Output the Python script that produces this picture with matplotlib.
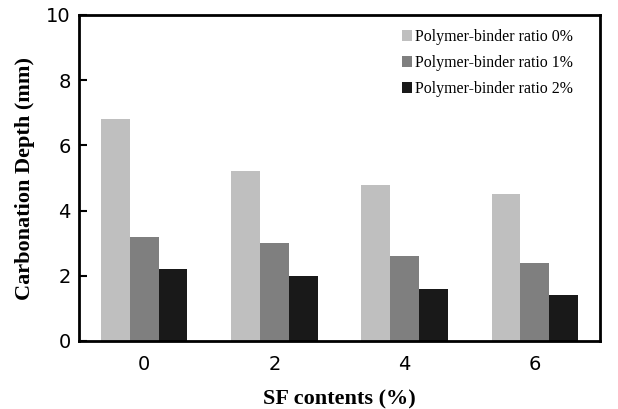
import numpy as np
import matplotlib.pyplot as plt

sf_contents = ['0', '2', '4', '6']
series_names = ['Polymer-binder ratio 0%', 'Polymer-binder ratio 1%', 'Polymer-binder ratio 2%']
depth_0 = [6.8, 5.2, 4.8, 4.5]
depth_1 = [3.2, 3.0, 2.6, 2.4]
depth_2 = [2.2, 2.0, 1.6, 1.4]
colors = ['#bfbfbf', '#7f7f7f', '#191919']

fig = plt.figure(figsize=(6.18, 4.09), dpi=100)
ax = fig.add_axes([79 / 618, 1 - 341 / 409, 521 / 618, 326 / 409])

x = np.arange(len(sf_contents))
w = 0.222
for i, vals in enumerate([depth_0, depth_1, depth_2]):
    ax.bar(x + (i - 1) * w, vals, w, color=colors[i], label=series_names[i])

ax.set_xlim(-0.5, 3.5)
ax.set_ylim(0, 10)
ax.set_yticks([0, 2, 4, 6, 8, 10])
ax.set_xticks(x)
ax.set_xticklabels(sf_contents)
ax.tick_params(axis='x', length=0, labelsize=14, pad=10)
ax.tick_params(axis='y', direction='in', length=6, width=1.5, labelsize=14, pad=6)
for s in ax.spines.values():
    s.set_linewidth(2)

ax.set_ylabel('Carbonation Depth (mm)', family='Liberation Serif', fontweight='bold', fontsize=16, labelpad=8)
ax.set_xlabel('SF contents (%)', family='Liberation Serif', fontweight='bold', fontsize=16, labelpad=11)

ax.legend(loc='upper right', frameon=False, prop={'family': 'Liberation Serif', 'size': 11.4},
          handlelength=0.65, handleheight=0.65, handletextpad=0.15, labelspacing=0.62,
          bbox_to_anchor=(0.975, 1.0))

fig.savefig('out.png', dpi=100)
